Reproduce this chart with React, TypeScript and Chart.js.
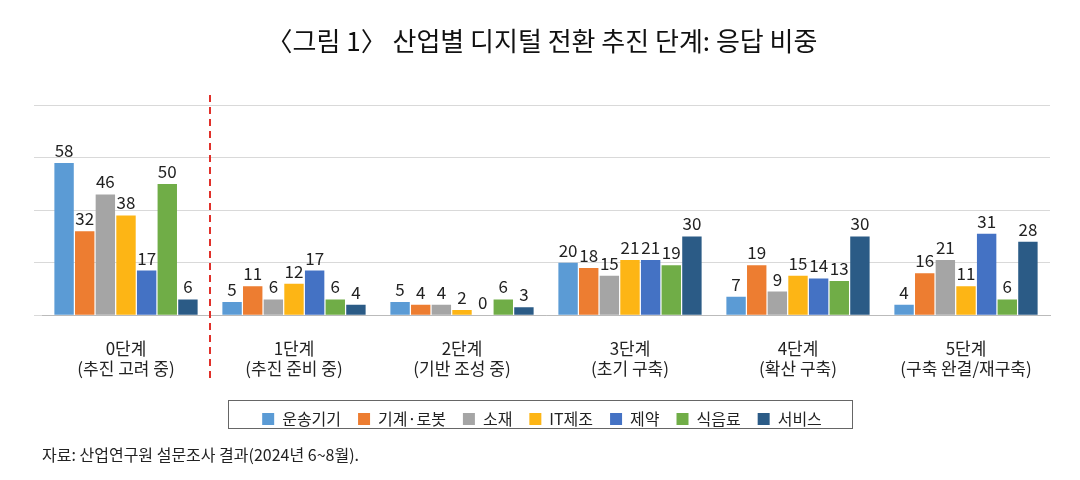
import React, { useEffect, useRef } from "react";
import { Chart, registerables } from "chart.js";
Chart.register(...registerables);

const categories = [["0단계", "(추진 고려 중)"], ["1단계", "(추진 준비 중)"], ["2단계", "(기반 조성 중)"], ["3단계", "(초기 구축)"], ["4단계", "(확산 구축)"], ["5단계", "(구축 완결/재구축)"]];
const seriesNames = ["운송기기", "기계·로봇", "소재", "IT제조", "제약", "식음료", "서비스"];
const colors = ["#5B9BD5", "#ED7D31", "#A5A5A5", "#FDB515", "#4472C4", "#70AD47", "#2B5B86"];
const s1 = [58, 5, 5, 20, 7, 4];
const s2 = [32, 11, 4, 18, 19, 16];
const s3 = [46, 6, 4, 15, 9, 21];
const s4 = [38, 12, 2, 21, 15, 11];
const s5 = [17, 17, 0, 21, 14, 31];
const s6 = [50, 6, 6, 19, 13, 6];
const s7 = [6, 4, 3, 30, 30, 28];
const values = [s1, s2, s3, s4, s5, s6, s7];
const FONT = "'Noto Sans CJK KR', 'Noto Sans', sans-serif";

export default function App() {
  const ref = useRef<HTMLCanvasElement>(null);
  useEffect(() => {
    document.body.style.margin = "0";
    const plugin = {
      id: "extras",
      afterDatasetsDraw(chart: any) {
        const ctx = chart.ctx;
        ctx.save();
        ctx.font = `17px ${FONT}`;
        ctx.fillStyle = "#222";
        ctx.textAlign = "center";
        ctx.textBaseline = "bottom";
        chart.data.datasets.forEach((ds: any, i: number) => {
          chart.getDatasetMeta(i).data.forEach((bar: any, j: number) => {
            ctx.fillText(String(ds.data[j]), bar.x, bar.y - 4);
          });
        });
        const xs = chart.scales.x;
        const xb = (xs.getPixelForValue(0) + xs.getPixelForValue(1)) / 2;
        ctx.strokeStyle = "#E0302A";
        ctx.lineWidth = 2;
        ctx.setLineDash([7, 5]);
        ctx.beginPath();
        ctx.moveTo(xb, 95);
        ctx.lineTo(xb, 378);
        ctx.stroke();
        ctx.setLineDash([]);
        ctx.strokeStyle = "#666";
        ctx.lineWidth = 1;
        ctx.strokeRect(228.5, 400.5, 624, 28);
        ctx.textAlign = "left";
        ctx.textBaseline = "middle";
        ctx.font = `16px ${FONT}`;
        ctx.fillStyle = "#222";
        ctx.fillText("자료: 산업연구원 설문조사 결과(2024년 6~8월).", 42, 455);
        ctx.restore();
      },
    };
    const chart = new Chart(ref.current!, {
      type: "bar",
      data: {
        labels: categories,
        datasets: seriesNames.map((n, i) => ({
          label: n,
          data: values[i],
          backgroundColor: colors[i],
          categoryPercentage: 0.86,
          barPercentage: 0.94,
        })),
      },
      options: {
        animation: false,
        responsive: false,
        layout: { padding: { left: 34, right: 30, top: 0, bottom: 43 } },
        plugins: {
          title: {
            display: true,
            text: "〈그림 1〉 산업별 디지털 전환 추진 단계: 응답 비중",
            font: { family: FONT, size: 26, weight: "normal" },
            color: "#111",
            padding: { top: 26, bottom: 48 },
          },
          legend: {
            position: "bottom",
            labels: { boxWidth: 12, boxHeight: 12, font: { family: FONT, size: 16 }, color: "#222", padding: 17 },
          },
          tooltip: { enabled: false },
        },
        scales: {
          x: {
            grid: { display: false },
            border: { color: "#bbb" },
            ticks: { font: { family: FONT, size: 17 }, color: "#222", padding: 15 },
          },
          y: {
            min: 0, max: 80,
            ticks: { display: false, stepSize: 20 },
            grid: { color: "#d9d9d9" },
            border: { display: false },
          },
        },
      },
      plugins: [plugin],
    });
    return () => chart.destroy();
  }, []);
  return <canvas ref={ref} width={1080} height={480} style={{ display: "block" }} />;
}
